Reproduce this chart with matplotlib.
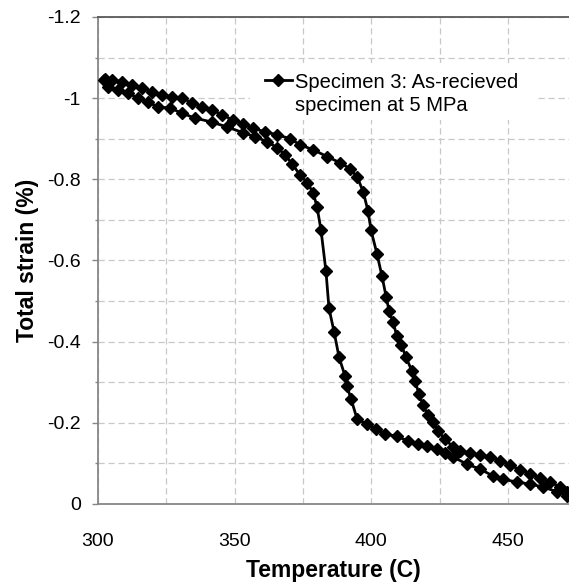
import numpy as np
import matplotlib
matplotlib.use("Agg")
import matplotlib.pyplot as plt
from matplotlib.ticker import MultipleLocator, FuncFormatter
from matplotlib.patches import Rectangle

plt.rcParams['font.family'] = ['Liberation Sans', 'DejaVu Sans']
plt.rcParams['axes.unicode_minus'] = False

# heating branch (transformation near 400 C)
heat_temp = [302.5, 305.1, 308.8, 312.4, 316.1, 319.8, 323.4, 327.1, 330.7, 334.4,
             338.1, 341.7, 345.4, 349.4, 353.1, 356.7, 361.1, 365.5, 370.3, 373.9,
             378.7, 383.8, 388.5, 392.2, 394.8, 397.0, 398.8, 399.9, 402.1, 403.9,
             405.4, 406.5, 407.9, 409.4, 410.9, 412.7, 414.9, 416.0, 417.5, 418.9,
             420.7, 422.6, 424.4, 427.0, 429.9, 432.5, 436.1, 439.8, 443.4, 447.1,
             450.7, 454.4, 458.1, 461.7, 465.4, 469.0, 471.6]
heat_strain = [-1.047, -1.045, -1.040, -1.033, -1.025, -1.015, -1.008, -1.003, -1.001, -0.988,
               -0.979, -0.971, -0.959, -0.946, -0.936, -0.926, -0.917, -0.910, -0.900, -0.885,
               -0.873, -0.856, -0.841, -0.826, -0.806, -0.770, -0.721, -0.674, -0.615, -0.561,
               -0.511, -0.475, -0.448, -0.413, -0.393, -0.361, -0.327, -0.302, -0.270, -0.243,
               -0.219, -0.202, -0.179, -0.160, -0.140, -0.130, -0.125, -0.120, -0.116, -0.106,
               -0.096, -0.084, -0.074, -0.064, -0.054, -0.042, -0.030]

# cooling branch (transformation near 383 C)
cool_temp = [302.2, 303.7, 307.3, 311.0, 314.6, 318.3, 322.0, 326.3, 330.7, 335.5,
             341.7, 347.2, 353.1, 357.4, 361.8, 365.5, 368.4, 371.0, 373.9, 376.5,
             378.7, 380.1, 381.6, 383.4, 384.5, 386.4, 388.2, 390.4, 391.1, 392.6,
             394.8, 398.4, 401.7, 405.0, 409.4, 413.4, 417.1, 420.4, 424.0, 427.0,
             429.9, 435.0, 439.8, 444.5, 448.2, 453.3, 458.1, 462.8, 468.0, 471.6]
cool_strain = [-1.045, -1.028, -1.020, -1.013, -1.000, -0.990, -0.978, -0.976, -0.963, -0.951,
               -0.941, -0.929, -0.915, -0.905, -0.893, -0.878, -0.861, -0.838, -0.811, -0.792,
               -0.767, -0.733, -0.674, -0.573, -0.482, -0.423, -0.361, -0.315, -0.290, -0.258,
               -0.209, -0.197, -0.184, -0.172, -0.167, -0.155, -0.148, -0.143, -0.135, -0.125,
               -0.116, -0.098, -0.086, -0.069, -0.061, -0.054, -0.049, -0.042, -0.030, -0.020]

label = "Specimen 3: As-recieved\nspecimen at 5 MPa"

temp = np.concatenate([heat_temp, cool_temp[::-1]])
strain = np.concatenate([heat_strain, cool_strain[::-1]])

fig = plt.figure(figsize=(5.69, 5.86), dpi=100)
ax = fig.add_axes([98/569, 1 - 504/586, 471/569, 487/586])

ax.plot(temp, strain, color='black', lw=2, marker='D', ms=6.5, zorder=3)

ax.set_xlim(300, 472.3)
ax.set_ylim(0, -1.2)
ax.xaxis.set_major_locator(MultipleLocator(50))
ax.xaxis.set_minor_locator(MultipleLocator(25))
ax.yaxis.set_major_locator(MultipleLocator(0.2))
ax.yaxis.set_minor_locator(MultipleLocator(0.1))
ax.yaxis.set_major_formatter(FuncFormatter(lambda v, p: '%g' % round(v, 2)))

ax.set_axisbelow(True)
ax.grid(True, which='both', color='#c8c8c8', linestyle=(0, (5, 3)), linewidth=0.9)

for side in ['left', 'bottom']:
    ax.spines[side].set_color('#878787')
    ax.spines[side].set_linewidth(1.3)
ax.spines['top'].set_color('#595959')
ax.spines['top'].set_linewidth(1.3)
ax.spines['right'].set_visible(False)

ax.tick_params(axis='x', which='both', length=0, pad=21, labelsize=14)
ax.tick_params(axis='y', which='major', length=4.5, width=1, color='#878787',
               pad=8, labelsize=14)
ax.tick_params(axis='y', which='minor', length=2.5, width=1, color='#878787')

ax.set_xlabel('Temperature (C)', fontsize=16.5, fontweight='bold', labelpad=6)
ax.set_ylabel('Total strain (%)', fontsize=16.5, fontweight='bold', labelpad=6)

# legend drawn by hand so the key sits on the first text line
ax.add_patch(Rectangle((0.3227, 0.7885), 0.605, 0.117, transform=ax.transAxes,
                       facecolor='white', edgecolor='none', zorder=1))
ax.plot([0.3546, 0.3832, 0.4119], [0.8706, 0.8706, 0.8706], transform=ax.transAxes,
        color='black', lw=2, marker='D', ms=6.5, markevery=[1], zorder=3, clip_on=False)
ax.text(0.418, 0.842, label, transform=ax.transAxes, fontsize=14.5,
        va='center', ha='left', linespacing=1.25, zorder=3)

fig.savefig('out.png', dpi=100)
